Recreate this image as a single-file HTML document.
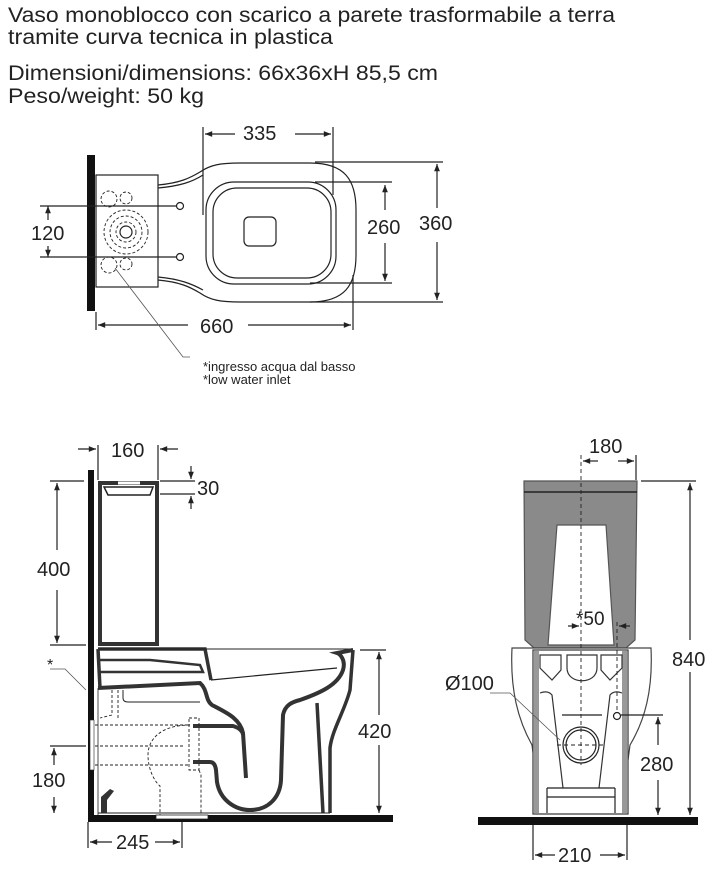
<!DOCTYPE html>
<html><head><meta charset="utf-8"><style>
html,body{margin:0;padding:0;background:#fff;}
svg{display:block;}
text{font-family:"Liberation Sans",sans-serif;fill:#222;}
</style></head><body>
<svg width="721" height="870" viewBox="0 0 721 870" xmlns="http://www.w3.org/2000/svg">
<defs>
<marker id="a" viewBox="0 0 10 10" refX="10" refY="5" markerWidth="8" markerHeight="6" orient="auto-start-reverse"><path d="M0,1 L10,5 L0,9 z" fill="#222"/></marker>
</defs>
<!-- Title -->
<text x="8" y="22" font-size="21" textLength="607" lengthAdjust="spacingAndGlyphs">Vaso monoblocco con scarico a parete trasformabile a terra</text>
<text x="8" y="44" font-size="21" textLength="325" lengthAdjust="spacingAndGlyphs">tramite curva tecnica in plastica</text>
<text x="8" y="80" font-size="21" textLength="430" lengthAdjust="spacingAndGlyphs">Dimensioni/dimensions: 66x36xH 85,5 cm</text>
<text x="8" y="103" font-size="21" textLength="196" lengthAdjust="spacingAndGlyphs">Peso/weight: 50 kg</text>

<!-- TOP VIEW -->
<g stroke="#222" fill="none" stroke-width="1.2">
<rect x="87" y="155" width="8" height="156" fill="#111" stroke="none"/>
<rect x="96" y="175" width="62" height="112"/>
<path d="M158,185 C180,183 190,178 200,172 C210,165 220,163 240,163 L310,163 C345,163 356,180 356,210 L356,255 C356,285 345,302 310,302 L240,302 C220,302 210,300 200,293 C190,287 180,282 158,280"/>
<path d="M158,188 C180,186 192,182 203,175"/>
<path d="M158,277 C180,279 192,284 203,290"/>
<rect x="206" y="182" width="130" height="102" rx="28"/>
<rect x="213" y="188" width="118" height="90" rx="24"/>
<rect x="244" y="217" width="32" height="29" rx="5"/>
<circle cx="180" cy="206" r="3.5"/><circle cx="180" cy="257" r="3.5"/>
<g stroke-dasharray="3,2" stroke-width="0.9">
<circle cx="126" cy="232" r="22"/><circle cx="126" cy="232" r="16"/><circle cx="126" cy="232" r="10"/>
<circle cx="109" cy="199" r="8"/><circle cx="126" cy="198" r="6"/><circle cx="109" cy="265" r="8"/><circle cx="126" cy="264" r="6"/>
</g>
<circle cx="126" cy="232" r="6"/>
<line x1="203" y1="127" x2="203" y2="215"/><line x1="333" y1="127" x2="333" y2="195"/>
<line x1="205" y1="134" x2="235" y2="134" marker-start="url(#a)"/><line x1="295" y1="134" x2="331" y2="134" marker-end="url(#a)"/>
<line x1="315" y1="182" x2="392" y2="182"/><line x1="310" y1="283" x2="392" y2="283"/>
<line x1="385" y1="185" x2="385" y2="210" marker-start="url(#a)"/><line x1="385" y1="243" x2="385" y2="281" marker-end="url(#a)"/>
<line x1="315" y1="162" x2="443" y2="162"/><line x1="310" y1="302" x2="443" y2="302"/>
<line x1="437" y1="164" x2="437" y2="208" marker-start="url(#a)"/><line x1="437" y1="242" x2="437" y2="300" marker-end="url(#a)"/>
<line x1="96" y1="312" x2="96" y2="330"/><line x1="353" y1="275" x2="353" y2="330"/>
<line x1="98" y1="325" x2="188" y2="325" marker-start="url(#a)"/><line x1="248" y1="325" x2="351" y2="325" marker-end="url(#a)"/>
<line x1="40" y1="206" x2="177" y2="206"/><line x1="40" y1="257" x2="177" y2="257"/>
<line x1="48" y1="206" x2="48" y2="220" marker-start="url(#a)"/><line x1="48" y1="246" x2="48" y2="257" marker-end="url(#a)"/>
<path d="M115,268 L183,357 L190,357" stroke-width="0.8" stroke="#555"/>
</g>
<text x="243" y="140" font-size="20">335</text>
<text x="367" y="234" font-size="20">260</text>
<text x="419" y="230" font-size="20">360</text>
<text x="200" y="333" font-size="20">660</text>
<text x="31" y="240" font-size="20">120</text>
<text x="203" y="371" font-size="13">*ingresso acqua dal basso</text>
<text x="203" y="384" font-size="13">*low water inlet</text>

<!-- SIDE VIEW -->
<g stroke="#222" fill="none" stroke-width="1.2">
<rect x="88" y="470" width="6" height="352" fill="#111" stroke="none"/>
<rect x="88" y="815" width="305" height="7" fill="#111" stroke="none"/>
<rect x="90" y="720" width="4" height="50" fill="#fff" stroke="#222" stroke-width="0.6"/>
<rect x="100" y="483" width="57" height="161" stroke-width="4" stroke="#333"/>
<path d="M104,487 L153,487 L150,495 L108,495 Z" stroke-width="1.5"/>
<line x1="118" y1="483" x2="140" y2="483" stroke="#fff" stroke-width="3"/>
<!-- upper block -->
<path d="M98,649 L205,649 L211,680" stroke-width="3.5" stroke="#333"/>
<path d="M211,680 L337,668" stroke-width="1.2"/>
<path d="M98,649 L353,649" stroke-width="1"/>
<path d="M100,660 L150,660 L200,665 L203,672 L150,672 L100,672" stroke-width="2.5" stroke="#333"/>
<path d="M100,688 L98,649" stroke-width="3.5" stroke="#333"/>
<!-- throat / left trap leg -->
<path d="M98,688 L200,683 C208,690 205,700 212,705 C225,712 240,718 243,733 L246,778" stroke-width="4" stroke="#333"/>
<path d="M123,690 L123,698 Q123,702 128,702 L200,702" stroke-width="1"/>
<path d="M193,726 L233,726 C240,728 243,732 243,735" stroke-width="4" stroke="#333"/>
<!-- outlet lower & U & bowl wall -->
<path d="M193,762 L210,762 Q215,762 216,770 L217,782 C220,800 235,810 250,810 C268,810 280,798 281,780 L283,715 C285,705 292,702 300,700 C320,693 338,685 343,670 C346,660 340,654 337,653 L353,650" stroke-width="4" stroke="#333"/>
<path d="M353,650 L350,690 C345,710 332,730 330,748 L330,813" stroke-width="3.5" stroke="#333"/>
<path d="M317,703 L323,813" stroke-width="3.5" stroke="#333"/>
<line x1="98" y1="813" x2="330" y2="813" stroke-width="1"/>
<line x1="98" y1="688" x2="98" y2="815" stroke-width="0.8"/>
<g stroke-dasharray="3,2" stroke-width="0.9">
<line x1="95" y1="725" x2="190" y2="725"/><line x1="95" y1="746" x2="183" y2="746"/><line x1="95" y1="765" x2="190" y2="765"/>
<path d="M190,725 C160,725 148,740 148,755 C148,770 155,782 160,786 L160,815"/>
<rect x="189" y="718" width="10" height="52"/>
<path d="M199,770 L201,775 L201,815"/>
<path d="M112,690 L112,715 L100,718"/><path d="M118,690 L118,718"/>
</g>
<rect x="156" y="815" width="52" height="4" fill="#fff" stroke-width="0.8"/>
<path d="M101,813 L101,797 L110,789 L114,791 L107,800 L107,813 Z" fill="#333" stroke="none"/>
<!-- dims -->
<line x1="98" y1="445" x2="98" y2="480"/><line x1="158" y1="445" x2="158" y2="480"/>
<line x1="78" y1="449" x2="96" y2="449" marker-end="url(#a)"/><line x1="178" y1="449" x2="160" y2="449" marker-end="url(#a)"/>
<line x1="160" y1="481" x2="195" y2="481"/><line x1="160" y1="494" x2="195" y2="494"/>
<line x1="191" y1="466" x2="191" y2="479" marker-end="url(#a)"/><line x1="191" y1="509" x2="191" y2="496" marker-end="url(#a)"/>
<line x1="50" y1="481" x2="84" y2="481"/><line x1="50" y1="645" x2="86" y2="645"/>
<line x1="57" y1="483" x2="57" y2="550" marker-start="url(#a)"/><line x1="57" y1="590" x2="57" y2="643" marker-end="url(#a)"/>
<line x1="50" y1="746" x2="86" y2="746"/>
<line x1="54" y1="748" x2="54" y2="765" marker-start="url(#a)"/><line x1="54" y1="797" x2="54" y2="813" marker-end="url(#a)"/>
<line x1="88" y1="822" x2="88" y2="848"/><line x1="182" y1="822" x2="182" y2="848"/>
<line x1="90" y1="842" x2="112" y2="842" marker-start="url(#a)"/><line x1="155" y1="842" x2="180" y2="842" marker-end="url(#a)"/>
<line x1="360" y1="650" x2="386" y2="650"/>
<line x1="379" y1="652" x2="379" y2="715" marker-start="url(#a)"/><line x1="379" y1="745" x2="379" y2="813" marker-end="url(#a)"/>
<path d="M50,669 L65,669 L86,690" stroke-width="0.8" stroke="#555"/>
</g>
<text x="111" y="457" font-size="20">160</text>
<text x="197" y="495" font-size="20">30</text>
<text x="37" y="576" font-size="20">400</text>
<text x="32" y="787" font-size="20">180</text>
<text x="116" y="849" font-size="20">245</text>
<text x="358" y="738" font-size="20">420</text>
<text x="47" y="670" font-size="16">*</text>

<!-- FRONT VIEW -->
<g stroke="#222" fill="none" stroke-width="1.2">
<rect x="478" y="817" width="220" height="8" fill="#111" stroke="none"/>
<path d="M524,481 L637,481 L635,640 L626,648 L534,648 L525,640 Z" fill="#8a8a8a" stroke="#555"/>
<line x1="524" y1="492" x2="637" y2="492" stroke="#222" stroke-width="1.5"/>
<path d="M557,525 L606,525 L614,645 L548,645 Z" fill="#fff" stroke="#555"/>
<path d="M512,648 L651,648 C653,690 645,720 630,745 L628,760 L534,760 L532,745 C518,720 510,690 512,648 Z" fill="#fff" stroke="#444"/>
<rect x="533" y="650" width="95" height="164" fill="#fff" stroke="#333"/>
<rect x="534" y="651" width="5" height="162" fill="#999" stroke="none"/>
<rect x="622" y="651" width="5" height="162" fill="#999" stroke="none"/>
<path d="M540,655 L561,655 L561,670 L552,680 L540,668 Z M567,655 L597,655 L597,668 C597,685 567,685 567,668 Z M601,655 L622,655 L622,668 L610,680 L601,670 Z" fill="#fff" stroke="#333"/>
<path d="M540,693 Q548,690 552,695 L563,788 M622,693 Q614,690 610,695 L599,788" stroke="#333"/>
<line x1="562" y1="715" x2="602" y2="715"/>
<line x1="547" y1="788" x2="615" y2="788"/><line x1="547" y1="797" x2="615" y2="797"/>
<line x1="547" y1="788" x2="547" y2="813"/><line x1="615" y1="788" x2="615" y2="813"/>
<circle cx="581" cy="745" r="18" fill="#fff"/><circle cx="581" cy="745" r="15"/>
<circle cx="617" cy="716" r="3.5"/>
<g stroke-dasharray="4,3" stroke-width="0.9">
<line x1="581" y1="455" x2="581" y2="765"/><line x1="557" y1="745" x2="605" y2="745"/>
<line x1="617" y1="622" x2="617" y2="712"/>
</g>
<line x1="636" y1="455" x2="636" y2="480"/>
<line x1="583" y1="461" x2="598" y2="461" marker-start="url(#a)"/><line x1="618" y1="461" x2="634" y2="461" marker-end="url(#a)"/>
<line x1="568" y1="626" x2="579" y2="626" marker-end="url(#a)"/><line x1="630" y1="626" x2="619" y2="626" marker-end="url(#a)"/>
<line x1="641" y1="481" x2="696" y2="481"/>
<line x1="690" y1="483" x2="690" y2="640" marker-start="url(#a)"/><line x1="690" y1="672" x2="690" y2="815" marker-end="url(#a)"/>
<line x1="621" y1="715" x2="663" y2="715"/>
<line x1="658" y1="717" x2="658" y2="745" marker-start="url(#a)"/><line x1="658" y1="780" x2="658" y2="815" marker-end="url(#a)"/>
<line x1="533" y1="825" x2="533" y2="860"/><line x1="627" y1="825" x2="627" y2="860"/>
<line x1="535" y1="855" x2="555" y2="855" marker-start="url(#a)"/><line x1="600" y1="855" x2="625" y2="855" marker-end="url(#a)"/>
<path d="M490,693 L510,693 L560,740" stroke-width="0.8" stroke="#555"/>
</g>
<text x="589" y="453" font-size="20">180</text>
<text x="576" y="625" font-size="19">*50</text>
<text x="672" y="666" font-size="20">840</text>
<text x="640" y="771" font-size="20">280</text>
<text x="445" y="690" font-size="20">Ø100</text>
<text x="558" y="862" font-size="20">210</text>
</svg>
</body></html>
